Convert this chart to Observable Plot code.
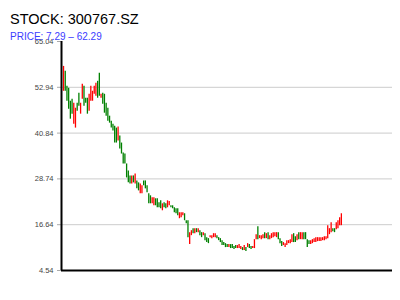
<!DOCTYPE html>
<html>
<head>
<meta charset="utf-8">
<script src="https://cdn.jsdelivr.net/npm/d3@7"></script>
<script src="https://cdn.jsdelivr.net/npm/@observablehq/plot@0.6"></script>
<style>
  body { margin: 0; background: #fff; }
  #wrap { position: relative; width: 400px; height: 300px; font-family: "Liberation Sans", Arial, sans-serif; }
  #title { position: absolute; left: 10px; top: 11px; font-size: 14.5px; color: #000; white-space: nowrap; }
  #sub { position: absolute; left: 10px; top: 31px; font-size: 10px; color: #3c3cff; white-space: nowrap; }
  #chart { position: absolute; left: 0; top: 0; }
</style>
</head>
<body>
<div id="wrap">
  <div id="chart"></div>
  <div id="title">STOCK: 300767.SZ</div>
  <div id="sub">PRICE: 7.29 – 62.29</div>
</div>
<script>
const titleText = "STOCK: 300767.SZ";
const subtitleText = "PRICE: 7.29 – 62.29";
const yTicks = [4.54, 16.64, 28.74, 40.84, 52.94, 65.04];
const yDomain = [4.54, 65.04];
const xDomain = [-1.2, 193];

const openPrices = [
51.89,57.15,53.20,52.68,49.26,49.78,43.21,42.16,48.73,51.36,
45.84,49.78,53.20,50.05,50.05,46.63,49.26,49.26,51.10,50.57,
54.52,56.62,50.05,51.36,51.10,48.73,47.41,45.31,44.00,43.21,
42.68,42.16,38.74,40.05,38.21,35.58,35.31,32.69,30.84,29.53,
27.42,29.53,27.42,28.21,27.69,24.79,24.79,28.21,28.21,26.90,
24.79,24.27,22.16,21.64,23.48,23.48,22.43,22.95,20.32,22.43,
22.16,21.11,21.64,21.64,21.64,21.11,20.85,20.85,18.22,18.48,
19.01,19.53,17.69,17.69,11.38,13.75,15.59,14.27,15.59,14.54,
15.06,14.54,13.75,14.27,13.22,12.96,13.22,12.96,13.22,13.22,
13.75,13.22,12.96,12.43,11.91,11.64,11.38,10.59,11.38,11.38,
10.85,11.12,10.33,10.33,10.06,10.59,9.80,10.59,10.59,11.38,
10.85,10.33,10.33,12.69,16.11,12.96,12.69,12.96,14.54,12.96,
14.54,12.69,12.96,13.22,13.48,13.22,14.54,12.96,12.17,11.12,
10.59,11.12,11.64,11.64,11.91,14.27,13.48,12.43,14.54,12.69,
12.69,14.54,14.54,12.69,12.43,11.38,11.64,11.91,11.91,12.17,
12.17,12.17,12.43,12.43,12.69,12.96,14.01,14.54,15.59,15.59,
15.33,15.59,16.38,16.38
];
const closePrices = [
58.46,51.89,49.26,47.15,44.52,45.84,48.73,47.41,46.63,47.94,
48.73,53.73,47.94,48.73,45.84,51.10,53.20,51.89,53.20,53.99,
50.05,50.57,51.10,48.47,46.10,45.31,44.00,43.47,42.16,41.37,
38.21,38.21,42.42,36.63,35.31,32.69,32.69,29.00,27.69,27.42,
29.53,27.69,30.06,26.11,25.58,27.42,26.90,26.90,26.11,25.06,
22.16,22.16,23.74,23.74,21.64,21.11,21.11,20.85,22.16,21.11,
20.85,22.95,22.80,21.11,20.85,19.80,19.53,19.01,19.80,19.80,
19.80,17.69,16.90,13.22,14.54,15.06,14.27,15.59,14.54,15.59,
13.75,13.22,14.54,12.43,11.91,11.64,13.75,13.75,14.27,14.27,
12.96,12.43,11.91,11.12,11.12,10.59,10.59,11.38,10.33,10.33,
10.06,10.33,11.12,11.38,10.85,9.80,11.12,9.54,11.64,10.33,
10.06,10.85,12.69,14.01,12.69,13.75,13.75,14.01,12.96,14.27,
12.69,13.75,14.27,14.54,14.54,14.54,12.69,11.64,10.85,11.91,
11.64,12.43,12.43,12.69,14.01,11.91,11.91,14.01,12.69,14.54,
14.54,12.69,12.69,10.59,11.38,12.43,12.69,12.96,13.22,13.22,
13.22,13.22,13.22,13.48,13.48,16.38,15.59,17.17,14.80,14.54,
17.17,17.69,18.48,19.53
];

const upColor = "#ff0000";
const downColor = "#008000";

const candles = openPrices.map((o, i) => ({i, open: o, close: closePrices[i], up: closePrices[i] >= o}));

const chart = Plot.plot({
  width: 400,
  height: 300,
  marginTop: 41,
  marginBottom: 30,
  marginLeft: 61,
  marginRight: 8,
  style: {fontFamily: "'Liberation Sans', Arial, sans-serif", background: "transparent"},
  x: {type: "linear", domain: xDomain, axis: null},
  y: {domain: yDomain, axis: null},
  marks: [
    Plot.ruleY(yTicks.slice(1, -1), {stroke: "#cccccc", strokeWidth: 1}),
    Plot.ruleX(candles, {x: "i", y1: "open", y2: "close", stroke: d => d.up ? upColor : downColor, strokeWidth: 1.3}),
    Plot.axisY(yTicks, {tickSize: 4, tickPadding: 4, fontSize: 7.5, fill: "#444", stroke: "#aaa", tickFormat: d => d.toFixed(2)}),
    Plot.ruleX([xDomain[0]], {stroke: "#000", strokeWidth: 2}),
    Plot.ruleY([yDomain[0]], {stroke: "#000", strokeWidth: 2})
  ]
});
document.getElementById("chart").appendChild(chart);
</script>
</body>
</html>
